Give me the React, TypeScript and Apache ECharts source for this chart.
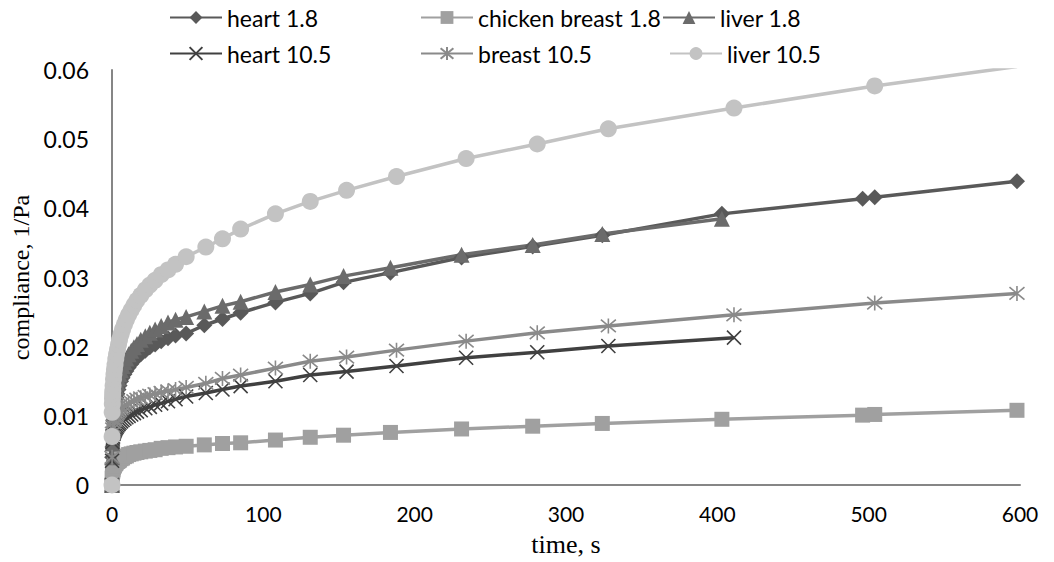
import React, { useEffect, useRef } from "react";
import * as echarts from "echarts";

// time points (s)
const t18 = [0, 0.1, 0.3, 0.5, 0.7, 1, 1.3, 1.6, 2, 2.5, 3, 3.6, 4.3, 5, 6, 7, 8.2, 9.5, 11, 12.7, 14.5, 16.5, 19, 22, 25, 28.5, 32.5, 37, 42, 49, 61, 73, 85, 108, 131, 153, 184, 231, 278, 324, 403, 496, 504, 598];
const t105 = [0, 0.05, 0.3, 0.5, 0.7, 1, 1.3, 1.6, 2, 2.5, 3, 3.6, 4.3, 5, 6, 7, 8.2, 9.5, 11, 12.7, 14.5, 16.5, 19, 22, 25, 28.5, 32.5, 37, 42, 49, 62, 73, 85, 108, 131, 155, 188, 234, 281, 328, 411, 504, 598];
const tLiver105 = [0, 0.05, 0.1, 0.2, 0.3, 0.4, 0.5, 0.7, 1, 1.3, 1.6, 2, 2.5, 3, 3.6, 4.3, 5, 6, 7, 8.2, 9.5, 11, 12.7, 14.5, 16.5, 19, 22, 25, 28.5, 32.5, 37, 42, 49, 62, 73, 85, 108, 131, 155, 188, 234, 281, 328, 411, 504, 598];

// compliance (1/Pa)
const heart18 = [0, 0.004, 0.0055, 0.007, 0.008, 0.0092, 0.0099, 0.0106, 0.0113, 0.012, 0.0126, 0.0132, 0.0138, 0.0144, 0.015, 0.0155, 0.016, 0.0165, 0.017, 0.0175, 0.018, 0.0184, 0.0189, 0.0194, 0.0199, 0.0203, 0.0208, 0.0212, 0.0216, 0.0219, 0.0231, 0.024, 0.0249, 0.0264, 0.0277, 0.0293, 0.0307, 0.0329, 0.0345, 0.0361, 0.0392, 0.0414, 0.0416, 0.0439];
const chicken18 = [0, 0.001, 0.0017, 0.002, 0.0022, 0.0025, 0.0027, 0.0028, 0.003, 0.0031, 0.0033, 0.0034, 0.0035, 0.0036, 0.0038, 0.0039, 0.0041, 0.0042, 0.0044, 0.0045, 0.0046, 0.0047, 0.0048, 0.0049, 0.005, 0.0051, 0.0053, 0.0054, 0.0055, 0.0056, 0.0058, 0.006, 0.0061, 0.0065, 0.0069, 0.0072, 0.0076, 0.0081, 0.0085, 0.0089, 0.0095, 0.0101, 0.0102, 0.0108];
const liver18 = [0, 0.004, 0.006, 0.0078, 0.009, 0.0105, 0.0113, 0.012, 0.0128, 0.0135, 0.0141, 0.0148, 0.0154, 0.016, 0.0166, 0.0172, 0.0178, 0.0183, 0.0189, 0.0194, 0.0199, 0.0204, 0.021, 0.0215, 0.022, 0.0225, 0.023, 0.0235, 0.0239, 0.0243, 0.0251, 0.0259, 0.0265, 0.0279, 0.029, 0.0302, 0.0314, 0.0333, 0.0347, 0.0363, 0.0385];
const heart105 = [0, 0.0035, 0.0062, 0.0067, 0.007, 0.0074, 0.0076, 0.0078, 0.008, 0.0082, 0.0084, 0.0086, 0.0088, 0.009, 0.0092, 0.0094, 0.0096, 0.0098, 0.01, 0.0102, 0.0104, 0.0106, 0.0108, 0.0111, 0.0113, 0.0116, 0.0118, 0.0121, 0.0124, 0.0128, 0.0133, 0.0138, 0.0143, 0.015, 0.0159, 0.0164, 0.0172, 0.0184, 0.0192, 0.0201, 0.0213];
const breast105 = [0, 0.004, 0.0075, 0.0081, 0.0085, 0.009, 0.0093, 0.0095, 0.0098, 0.01, 0.0102, 0.0104, 0.0106, 0.0108, 0.011, 0.0112, 0.0114, 0.0116, 0.0118, 0.012, 0.0122, 0.0124, 0.0126, 0.0128, 0.013, 0.0132, 0.0134, 0.0136, 0.0138, 0.0141, 0.0147, 0.0154, 0.0159, 0.0169, 0.0179, 0.0185, 0.0195, 0.0208, 0.022, 0.023, 0.0246, 0.0263, 0.0277];
const liver105 = [0, 0.007, 0.0105, 0.0117, 0.0125, 0.0131, 0.0136, 0.0144, 0.0153, 0.016, 0.0167, 0.0174, 0.0182, 0.0189, 0.0196, 0.0203, 0.021, 0.0218, 0.0225, 0.0232, 0.0239, 0.0246, 0.0253, 0.026, 0.0267, 0.0274, 0.0282, 0.0289, 0.0296, 0.0304, 0.0311, 0.0319, 0.033, 0.0344, 0.0356, 0.037, 0.0392, 0.041, 0.0426, 0.0446, 0.0472, 0.0493, 0.0515, 0.0545, 0.0577, 0.0605];

const seriesNames = ["heart 1.8", "chicken breast 1.8", "liver 1.8", "heart 10.5", "breast 10.5", "liver 10.5"];
const xTicks = [0, 100, 200, 300, 400, 500, 600];

const X_PATH = "path://M0,0 L10,10 M10,0 L0,10";
const STAR_PATH = "path://M0,0 L10,10 M10,0 L0,10 M5,-1 L5,11";

function pairs(t: number[], v: number[]) {
  return v.map((y, i) => [t[i], y]);
}

export default function App() {
  const ref = useRef<HTMLDivElement>(null);
  useEffect(() => {
    document.body.style.margin = "0";
    const chart = echarts.init(ref.current!, undefined, { renderer: "svg" });
    const sans = "Lato";
    const mk = (
      name: string,
      t: number[],
      v: number[],
      color: string,
      symbol: string,
      size: number,
      stroke?: boolean
    ) => ({
      name,
      type: "line",
      data: pairs(t, v),
      symbol,
      symbolSize: size,
      showSymbol: true,
      lineStyle: { color, width: 3.5 },
      itemStyle: stroke
        ? { color, borderColor: color, borderWidth: 1.6 }
        : { color, borderWidth: 0 },
      emphasis: { disabled: true },
    });
    const legendPos = [
      [169, 6],
      [420, 6],
      [662, 6],
      [169, 42],
      [420, 42],
      [669, 42],
    ];
    chart.setOption({
      animation: false,
      grid: { left: 112, right: 34, top: 70, bottom: 70, containLabel: false },
      legend: seriesNames.map((n, i) => ({
        data: [n],
        left: legendPos[i][0],
        top: legendPos[i][1],
        padding: 0,
        itemWidth: 52,
        itemHeight: 16,
        selectedMode: false,
        textStyle: { fontFamily: sans, fontSize: 23, color: "#000" },
      })),
      xAxis: {
        type: "value",
        min: xTicks[0],
        max: xTicks[xTicks.length - 1],
        interval: 100,
        name: "time, s",
        nameLocation: "middle",
        nameGap: 46,
        nameTextStyle: { fontFamily: "Liberation Serif", fontSize: 26, color: "#000" },
        axisLine: { show: true, lineStyle: { color: "#868686", width: 2 } },
        axisTick: { show: false },
        splitLine: { show: false },
        axisLabel: { margin: 18, fontFamily: sans, fontSize: 21, color: "#000" },
      },
      yAxis: {
        type: "value",
        min: 0,
        max: 0.06,
        interval: 0.01,
        name: "compliance, 1/Pa",
        nameLocation: "middle",
        nameGap: 76,
        nameTextStyle: { fontFamily: "Liberation Serif", fontSize: 24, color: "#000" },
        axisLine: { show: true, lineStyle: { color: "#868686", width: 2 } },
        axisTick: { show: false },
        splitLine: { show: false },
        axisLabel: {
          margin: 23,
          fontFamily: sans,
          fontSize: 23,
          color: "#000",
          formatter: (v: number) => (v === 0 ? "0" : v.toFixed(2)),
        },
      },
      series: [
        mk(seriesNames[0], t18, heart18, "#595959", "diamond", 16),
        mk(seriesNames[1], t18, chicken18, "#a0a0a0", "rect", 15),
        mk(seriesNames[2], t18, liver18, "#6b6b6b", "triangle", 16),
        mk(seriesNames[3], t105, heart105, "#404040", X_PATH, 14, true),
        mk(seriesNames[4], t105, breast105, "#8a8a8a", STAR_PATH, 15, true),
        mk(seriesNames[5], tLiver105, liver105, "#c3c3c3", "circle", 17),
      ],
    });
    return () => chart.dispose();
  }, []);
  return <div ref={ref} style={{ width: 1054, height: 562 }} />;
}
